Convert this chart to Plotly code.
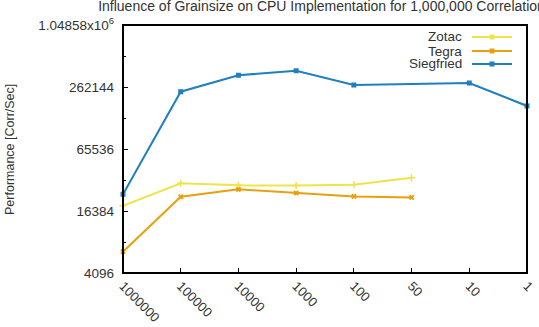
import plotly.graph_objects as go

grainsize = ["1000000", "100000", "10000", "1000", "100", "50", "10", "1"]
zotac = [18400, 30400, 29100, 28900, 29400, 34500, None, None]
tegra = [6600, 22500, 26600, 24500, 22700, 22200, None, None]
siegfried = [23800, 236000, 341000, 377000, 274000, None, 286700, 171600]

ytick_vals = [4096, 16384, 65536, 262144, 1048576]
ytick_text = ["4096", "16384", "65536", "262144", "1.04858x10<sup>6</sup>"]
yminor_vals = [8192, 32768, 131072, 524288]

series = [
    ("Zotac", zotac, "#efe34a", dict(symbol="cross-thin", size=5, line=dict(width=1.5, color="#efe34a"))),
    ("Tegra", tegra, "#e8a010", dict(symbol="x", size=5, line=dict(width=0))),
    ("Siegfried", siegfried, "#1f7fbf", dict(symbol="square", size=5, line=dict(width=0))),
]

L, R, T, B = 123, 12, 25, 54
W, H = 539, 327
pw, ph = W - L - R, H - T - B
FS = 13
TXT = "#333"

fig = go.Figure()
for name, vals, col, mk in series:
    fig.add_trace(go.Scatter(
        x=grainsize, y=vals, name=name, mode="lines+markers",
        line=dict(color=col, width=2), marker=dict(color=col, **mk),
        connectgaps=True, showlegend=False, cliponaxis=False,
    ))

# manual gnuplot-style legend (text right, sample line left)
legend_rows = [37, 51, 64]
shapes = []
annotations = []
for (name, vals, col, mk), yp in zip(series, legend_rows):
    yy = (H - B - yp) / ph
    x0 = (472 - L) / pw
    x1 = (512 - L) / pw
    xm = (492 - L) / pw
    shapes.append(dict(type="line", xref="paper", yref="paper", x0=x0, x1=x1, y0=yy, y1=yy,
                       line=dict(color=col, width=2)))
    dx = 2.5 / pw
    dy = 2.5 / ph
    shapes.append(dict(type="rect", xref="paper", yref="paper", x0=xm - dx, x1=xm + dx,
                       y0=yy - dy, y1=yy + dy, line=dict(width=0), fillcolor=col))
    annotations.append(dict(text=name, xref="paper", yref="paper", x=(464 - L) / pw, y=yy,
                            xanchor="right", yanchor="middle", showarrow=False,
                            font=dict(size=FS + 0.5, color=TXT)))

annotations.append(dict(text="Performance [Corr/Sec]", xref="paper", yref="paper",
                        x=(10 - L) / pw, y=0.5, xanchor="center", yanchor="middle",
                        textangle=-90, showarrow=False, font=dict(size=FS - 0.5, color=TXT)))

# border box
shapes.append(dict(type="rect", xref="paper", yref="paper", x0=0, x1=1, y0=0, y1=1,
                   line=dict(color="black", width=2), layer="above"))

fig.update_layout(
    width=W, height=H,
    margin=dict(l=L, r=R, t=T, b=B, pad=0, autoexpand=False),
    paper_bgcolor="white", plot_bgcolor="white",
    font=dict(family="Liberation Sans, Arial, sans-serif", size=FS, color=TXT),
    title=dict(text="Influence of Grainsize on CPU Implementation for 1,000,000 Correlations",
               x=(L + pw / 2) / W, xanchor="center", y=1 - 6 / H, yanchor="middle",
               font=dict(size=14, color=TXT)),
    shapes=shapes, annotations=annotations,
    xaxis=dict(type="category", range=[0, 7], showgrid=False, zeroline=False, automargin=False,
               ticks="inside", ticklen=5, tickwidth=1, tickcolor="black",
               tickangle=45, showline=False, tickfont=dict(size=FS), ticklabelstandoff=2),
    yaxis=dict(type="log", range=[3.61236, 6.0206], showgrid=False, zeroline=False, automargin=False,
               tickvals=ytick_vals, ticktext=ytick_text,
               ticks="inside", ticklen=5, tickwidth=1, tickcolor="black",
               showline=False, tickfont=dict(size=FS + 0.5), ticklabelstandoff=8,
               minor=dict(tickvals=yminor_vals, ticks="inside", ticklen=3, tickcolor="black")),
)

fig.write_html("out.html")
